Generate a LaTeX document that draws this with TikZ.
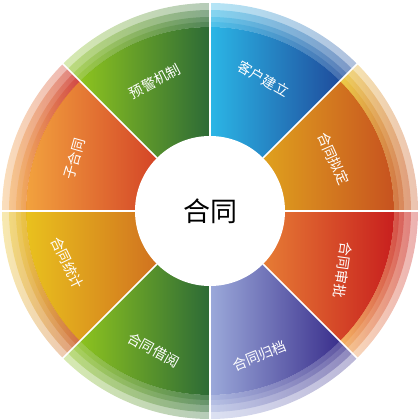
\documentclass[tikz,border=0pt]{standalone}
\usepackage{fontspec}
\newfontfamily\cjk{Noto Sans CJK SC}
\definecolor{gLeft}{HTML}{8DC31F}
\definecolor{gRight}{HTML}{2C6A36}
\definecolor{bLeft}{HTML}{2BB6E6}
\definecolor{bRight}{HTML}{1F4C9C}
\definecolor{yLeft}{HTML}{E9C11E}
\definecolor{yRight}{HTML}{C7521F}
\definecolor{oLeft}{HTML}{F2A23E}
\definecolor{oRight}{HTML}{C81F1E}
\definecolor{pLeft}{HTML}{9BA9DA}
\definecolor{pRight}{HTML}{3A2F8C}

\begin{document}
\begin{tikzpicture}[x=1pt,y=1pt]
    \useasboundingbox (-210,-209) rectangle (210,211);
    \foreach \a/\cl/\cr in {0/yLeft/yRight,45/bLeft/bRight,90/gLeft/gRight,135/oLeft/oRight,
                            180/yLeft/yRight,225/gLeft/gRight,270/pLeft/pRight,315/oLeft/oRight}{
        \shade[left color=\cl,right color=\cr] (0,0) -- (\a:184pt) arc (\a:\a+45:184pt) -- cycle;
        \foreach \r in {208,201,194,189}
            \shade[left color=\cl,right color=\cr,opacity=0.35]
                (\a:184pt) arc (\a:\a+45:184pt) -- (\a+45:\r pt) arc (\a+45:\a:\r pt) -- cycle;
    }
    \fill[white] (0,0) circle (75pt);
    \foreach \a in {0,45,...,315}
        \draw[white,line width=1.5pt] (\a:75pt) -- (\a:210pt);
    \tikzset{lbl/.style={text=white,font=\cjk\fontsize{14}{14}\selectfont}}
    \node[lbl,rotate=28] (yujing) at (113:141pt) {预警机制};
    \node[lbl,rotate=-30] (kehu) at (68:143pt) {客户建立};
    \node[lbl,rotate=-66] (niding) at (23:134pt) {合同拟定};
    \node[lbl,rotate=-98] (shenpi) at (-24:145pt) {合同审批};
    \node[lbl,rotate=22] (guidang) at (-71:153pt) {合同归档};
    \node[lbl,rotate=-29] (jieyue) at (-112:150pt) {合同借阅};
    \node[lbl,rotate=-64] (tongji) at (-160:152pt) {合同统计};
    \node[lbl,rotate=74] (zihetong) at (159:145pt) {子合同};
    \node[font=\cjk\fontsize{27}{27}\selectfont] (hetong) at (0,0) {合同};
\end{tikzpicture}
\end{document}
